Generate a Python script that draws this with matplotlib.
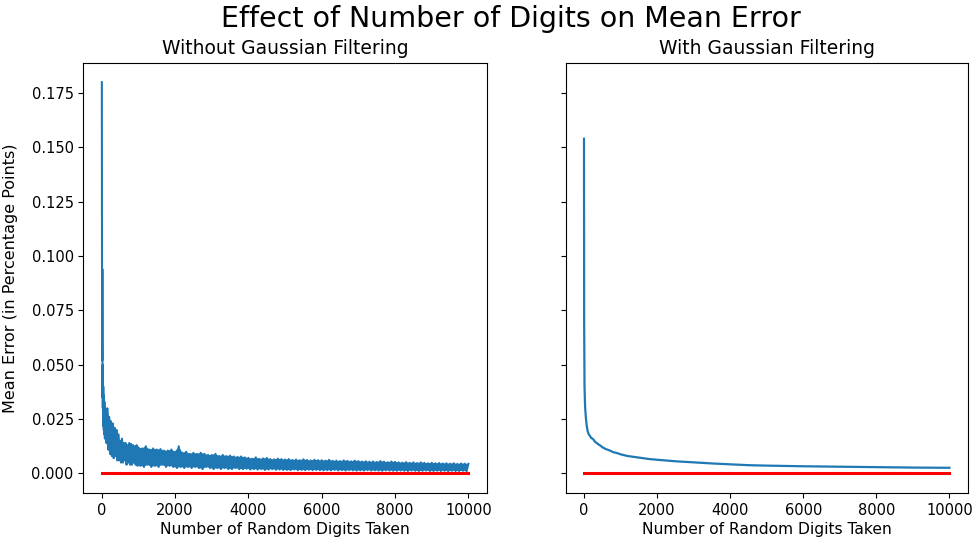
import numpy as np
import matplotlib
matplotlib.use("Agg")
import matplotlib.pyplot as plt

# ---------------- data ----------------
title = "Effect of Number of Digits on Mean Error"
left_title = "Without Gaussian Filtering"
right_title = "With Gaussian Filtering"
xlabel = "Number of Random Digits Taken"
ylabel = "Mean Error (in Percentage Points)"

# Without filtering: noisy series
left_x_early = [1, 3, 5, 8, 10, 13, 15, 18, 20, 23, 25, 28, 30, 35, 40, 45, 50,
                55, 60, 65, 70, 75, 80, 85, 90, 95]
left_y_early = [0.180, 0.120, 0.080, 0.060, 0.052, 0.070, 0.094, 0.055, 0.048,
                0.035, 0.050, 0.030, 0.045, 0.022, 0.040, 0.025, 0.036, 0.020,
                0.034, 0.018, 0.033, 0.021, 0.031, 0.016, 0.030, 0.019]

left_x_mid = np.arange(100, 1000, 25)
left_y_mid = [0.029, 0.014, 0.030, 0.011, 0.026, 0.009, 0.024, 0.008, 0.023, 0.007,
              0.021, 0.008, 0.020, 0.006, 0.018, 0.006, 0.015, 0.005, 0.016, 0.005,
              0.014, 0.006, 0.014, 0.004, 0.013, 0.005, 0.014, 0.004, 0.0135, 0.004,
              0.013, 0.005, 0.0125, 0.004, 0.013, 0.0035]

left_x_late = np.arange(1000, 10001, 50)
left_y_late = [
    0.012, 0.0035, 0.0115, 0.003, 0.0125, 0.004, 0.011, 0.003, 0.0115, 0.0035,
    0.011, 0.003, 0.0112, 0.004, 0.0105, 0.003, 0.0105, 0.0035, 0.011, 0.003,
    0.010, 0.0025, 0.0125, 0.003, 0.0095, 0.0025, 0.010, 0.003, 0.009, 0.0025,
    0.0095, 0.003, 0.009, 0.0025, 0.0095, 0.002, 0.009, 0.003, 0.0085, 0.0025,
    0.0085, 0.002, 0.009, 0.0025, 0.008, 0.002, 0.0085, 0.0025, 0.008, 0.002,
    0.0082, 0.002, 0.0078, 0.0025, 0.0076, 0.002, 0.0078, 0.002, 0.0074, 0.0022,
    0.0072, 0.0018, 0.0068, 0.002, 0.0074, 0.0018, 0.0067, 0.002, 0.0069, 0.0016,
    0.0071, 0.0018, 0.0066, 0.002, 0.0065, 0.0017, 0.0068, 0.0018, 0.0066, 0.0016,
    0.0064, 0.0016, 0.0066, 0.0015, 0.0062, 0.0018, 0.0064, 0.0015, 0.0061, 0.0016,
    0.0065, 0.0015, 0.0062, 0.0017, 0.006, 0.0015, 0.0063, 0.0016, 0.0061, 0.0015,
    0.0061, 0.0014, 0.0059, 0.0015, 0.0063, 0.0014, 0.0058, 0.0016, 0.0059, 0.0014,
    0.0057, 0.0015, 0.006, 0.0013, 0.0058, 0.0015, 0.0056, 0.0014, 0.0059, 0.0013,
    0.0057, 0.0014, 0.0055, 0.0013, 0.0056, 0.0015, 0.0054, 0.0013, 0.0055, 0.0014,
    0.0053, 0.0013, 0.0057, 0.0012, 0.0054, 0.0014, 0.0052, 0.0013, 0.0055, 0.0012,
    0.0053, 0.0012, 0.0051, 0.0013, 0.005, 0.0012, 0.0052, 0.0011, 0.0049, 0.0013,
    0.0051, 0.0012, 0.0048, 0.0011, 0.0051, 0.0012, 0.0049, 0.0013, 0.0047, 0.0011,
    0.0049, 0.0011, 0.0047, 0.0012, 0.0048, 0.0011, 0.0046, 0.0012, 0.0047, 0.001,
    0.0045, 0.0012, 0.0047, 0.0011, 0.0044, 0.0011, 0.0046, 0.0012, 0.0045, 0.001,
    0.0044,
]

# With filtering: smooth series
right_x = [1, 5, 15, 30, 50, 75, 100, 125, 150, 200, 250, 300, 350, 400, 450, 500,
           600, 700, 800, 900, 1000, 1200, 1500, 1800, 2000, 2500, 3000, 3500,
           4000, 4500, 5000, 6000, 7000, 8000, 9000, 10000]
right_y = [0.154, 0.070, 0.040, 0.031, 0.026, 0.022, 0.0195, 0.0182, 0.0176,
           0.0163, 0.0158, 0.0146, 0.0140, 0.0133, 0.0128, 0.0121, 0.0112,
           0.0106, 0.0098, 0.0094, 0.0088, 0.0080, 0.0073, 0.0066, 0.0063,
           0.0056, 0.0051, 0.0046, 0.0042, 0.0038, 0.0036, 0.0033, 0.0031,
           0.0029, 0.0027, 0.0026]

baseline_x = [0, 10000]
baseline_y = [0.0, 0.0]

xticks = [0, 2000, 4000, 6000, 8000, 10000]
yticks = [0.000, 0.025, 0.050, 0.075, 0.100, 0.125, 0.150, 0.175]

# ---------------- figure ----------------
blue = "#1f77b4"
left_x = np.concatenate([left_x_early, left_x_mid, left_x_late])
left_y = np.concatenate([left_y_early, left_y_mid, left_y_late])

# noise band outline: peaks (even samples) forward, troughs (odd samples) back
band_x = np.concatenate([left_x_mid, left_x_late])
band_y = np.concatenate([left_y_mid, left_y_late])
poly_x = np.concatenate([band_x[0::2], band_x[1::2][::-1]])
poly_y = np.concatenate([band_y[0::2], band_y[1::2][::-1]])

fig = plt.figure(figsize=(9.74, 5.42), dpi=100)
ax1 = fig.add_axes([0.0857, 0.0904, 0.414, 0.794])
ax2 = fig.add_axes([0.5808, 0.0904, 0.4127, 0.794], sharey=ax1)

ax1.fill(poly_x, poly_y, color=blue, lw=0)
ax1.plot(left_x, left_y, color=blue, lw=1.5)
ax1.plot(baseline_x, baseline_y, color="red", lw=2.2)
ax2.plot(right_x, right_y, color=blue, lw=1.6)
ax2.plot(baseline_x, baseline_y, color="red", lw=2.2)

for ax, t in ((ax1, left_title), (ax2, right_title)):
    ax.set_title(t, fontsize=13.5)
    ax.set_xlabel(xlabel, fontsize=11.2, labelpad=3)
    ax.set_xticks(xticks)
    ax.set_xlim(-500, 10500)
    ax.tick_params(labelsize=10.5)
ax1.set_yticks(yticks)
ax1.set_ylim(-0.009, 0.189)
ax1.set_ylabel(ylabel, fontsize=11.5, labelpad=10)
plt.setp(ax2.get_yticklabels(), visible=False)

fig.suptitle(title, fontsize=20.5, x=0.525, y=0.965, va="center")

fig.savefig("out.png", dpi=100)
